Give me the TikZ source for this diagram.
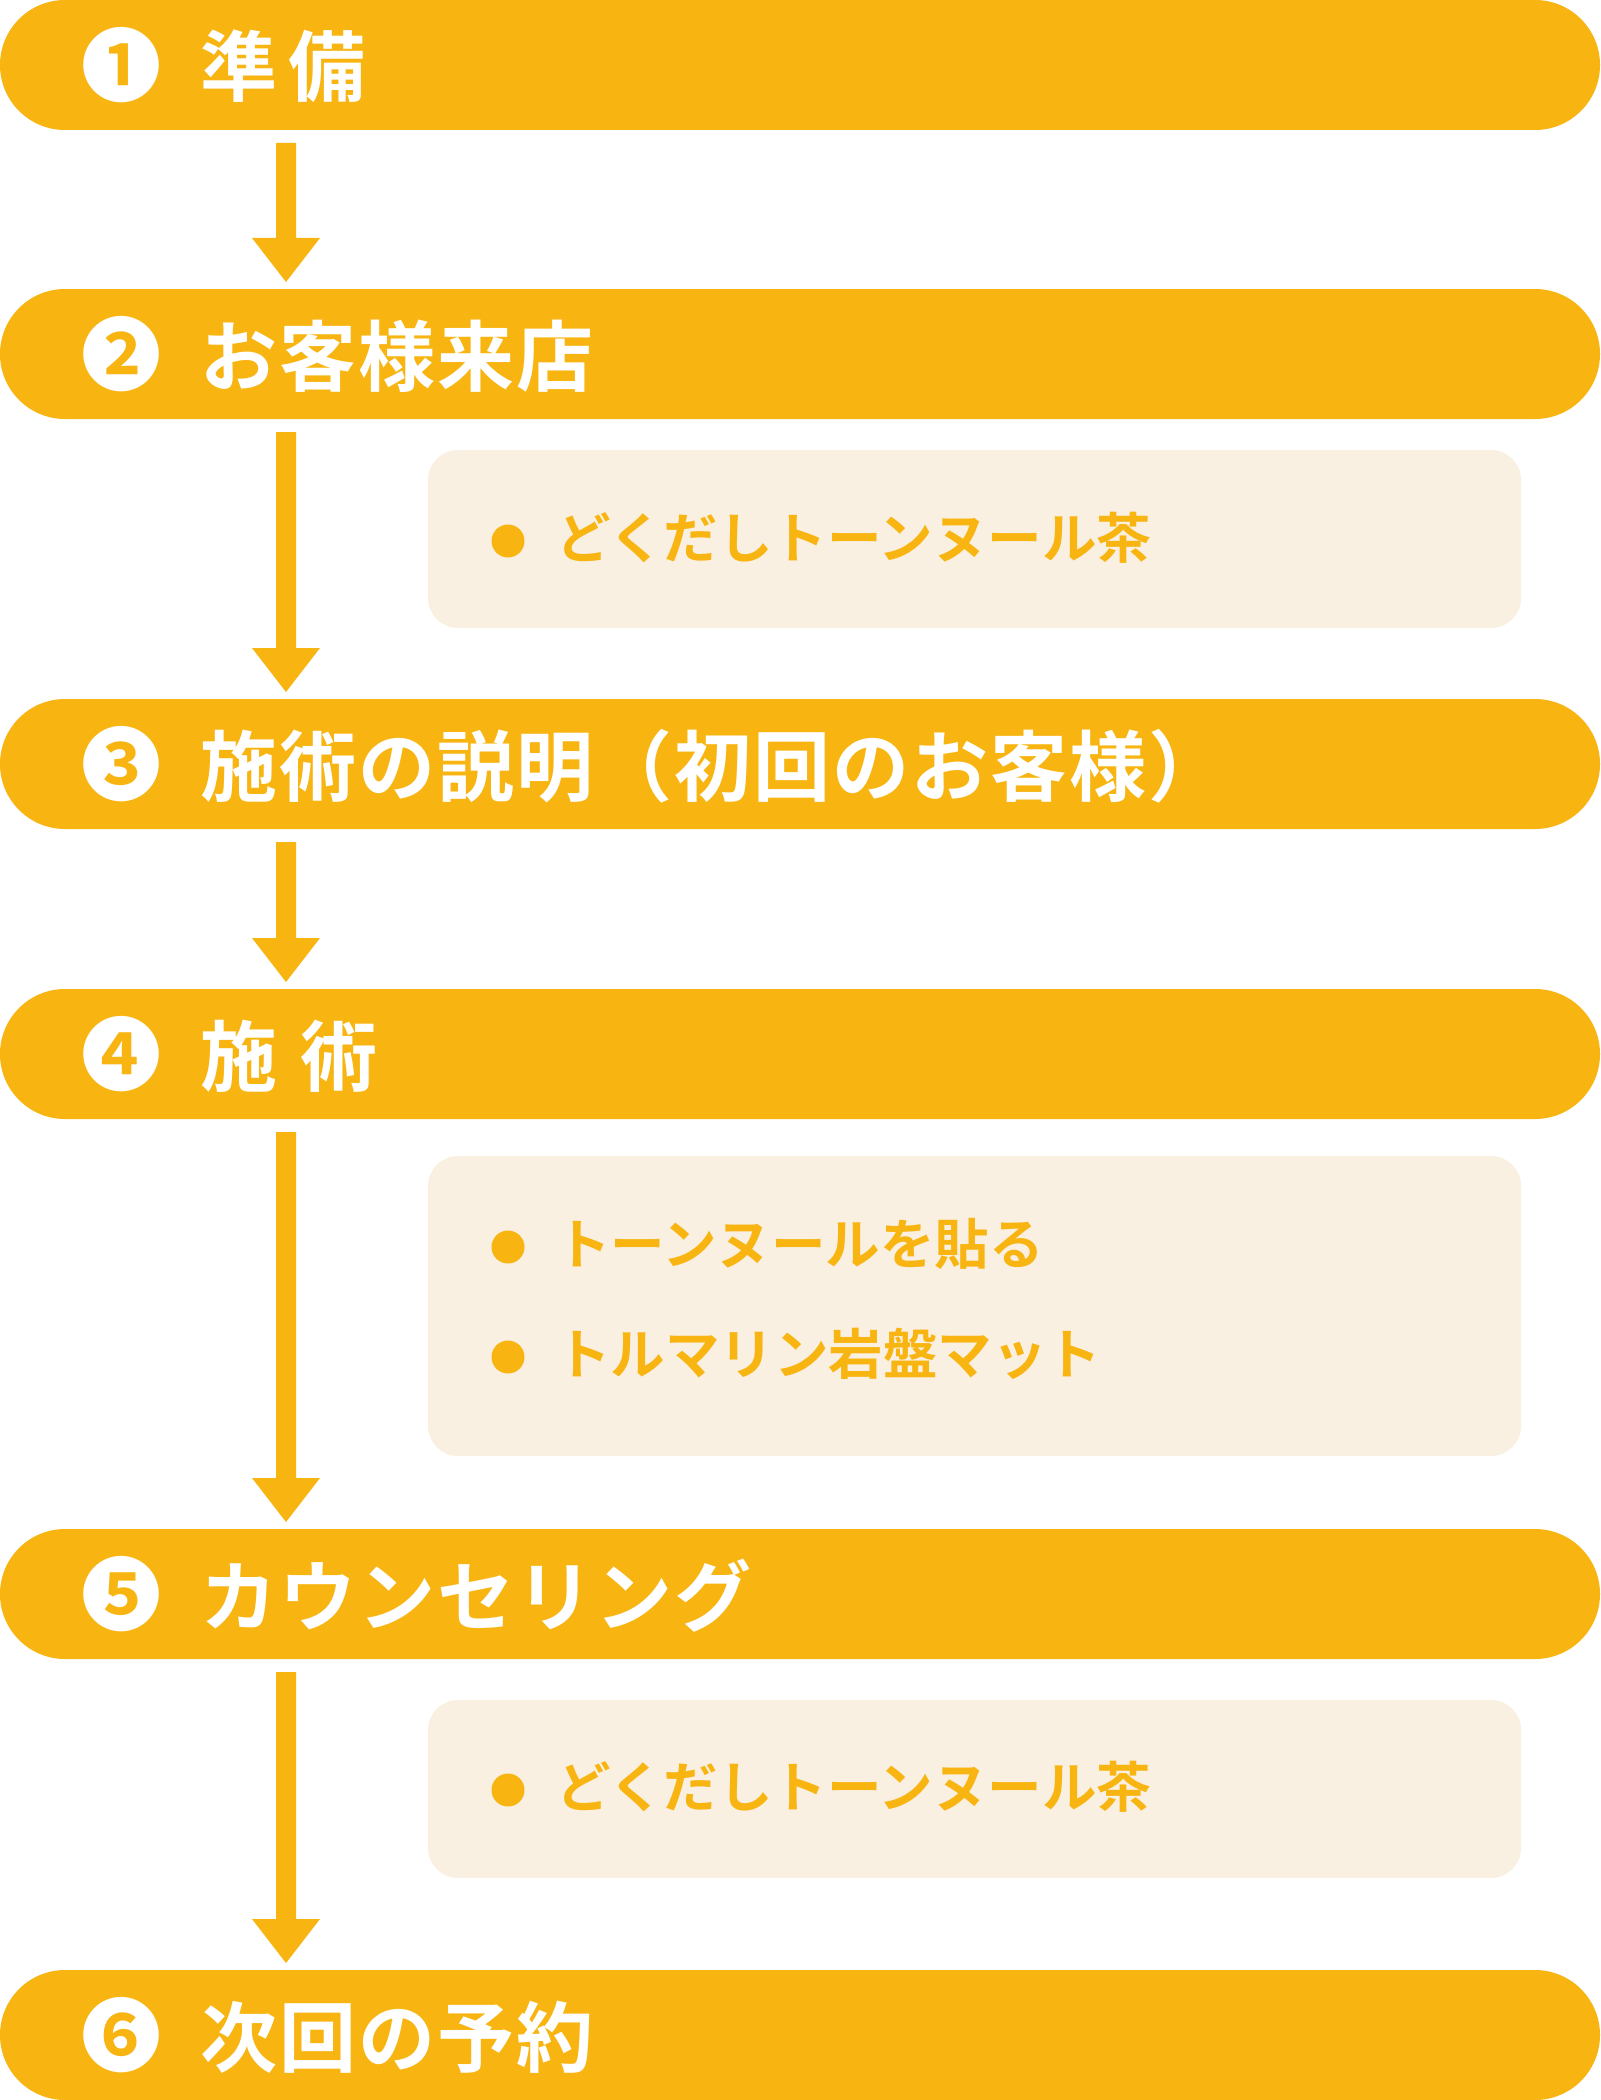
\documentclass[tikz,border=0pt]{standalone}
\usepackage{fontspec}
\setmainfont{Noto Sans CJK JP}[BoldFont={Noto Sans CJK JP Bold}]
\usetikzlibrary{calc}
\definecolor{barc}{HTML}{F8B512}
\definecolor{boxc}{HTML}{FAF0E1}
\tikzset{
 bar/.style={fill=barc, rounded corners=65pt, minimum width=1600pt, minimum height=130pt, inner sep=0pt, outer sep=0pt, anchor=north west},
 subbox/.style={fill=boxc, rounded corners=30pt, minimum width=1093pt, inner sep=0pt, outer sep=0pt, anchor=north west},
 numtxt/.style={text=white, font=\fontsize{80pt}{80pt}\selectfont\bfseries, inner sep=0pt},
 title/.style={text=white, font=\fontsize{77pt}{77pt}\selectfont\bfseries\addfontfeature{LetterSpace=2.6}, inner sep=0pt, anchor=base west},
 item/.style={text=barc, font=\fontsize{54.5pt}{54.5pt}\selectfont\bfseries, inner sep=0pt, anchor=base west},
 dot/.style={circle, fill=barc, minimum size=33pt, inner sep=0pt},
}
\newcommand\flowarrow[2]{%
 \fill[barc] ($(#1.south west)+(276,13)$) -- ($(#1.south west)+(296,13)$)
  -- ($(#2.north west)+(296,-51)$) -- ($(#2.north west)+(320,-51)$)
  -- ($(#2.north west)+(286,-7)$) -- ($(#2.north west)+(252,-51)$)
  -- ($(#2.north west)+(276,-51)$) -- cycle;}
\newcommand\stepbar[4]{% name, top y, number, title
 \node[bar] (#1) at (0,#2) {};
 \node[numtxt] (#1n) at ($(#1.west)+(121,0)$) {#3};
 \node[title] (#1t) at ($(#1.west)+(200,31)$) {#4};}
\begin{document}
\begin{tikzpicture}[x=1pt,y=-1pt]
\fill[white] (0,0) rectangle (1600,2100);
\useasboundingbox (0,0) rectangle (1600,2100);

\stepbar{s1}{0}{❶}{準\hspace{11pt}備}
\stepbar{s2}{289}{❷}{お客様来店}
\stepbar{s3}{699}{❸}{施術の説明（初回のお客様）}
\stepbar{s4}{989}{❹}{施\hspace{23.5pt}術}
\stepbar{s5}{1529}{❺}{カウンセリング}
\stepbar{s6}{1970}{❻}{次回の予約}

\node[subbox, minimum height=178pt] (b1) at (428,450) {};
\node[dot] (d1) at (508,541) {};
\node[item] (i1) at ($(d1)+(48,17)$) {どくだしトーンヌール茶};

\node[subbox, minimum height=300pt] (b2) at (428,1156) {};
\node[dot] (d2) at (508,1247) {};
\node[item] (i2) at ($(d2)+(48,17)$) {トーンヌールを貼る};
\node[dot] (d3) at (508,1357) {};
\node[item] (i3) at ($(d3)+(48,17)$) {トルマリン岩盤マット};

\node[subbox, minimum height=178pt] (b3) at (428,1700) {};
\node[dot] (d4) at (508,1790) {};
\node[item] (i4) at ($(d4)+(48,17)$) {どくだしトーンヌール茶};

\flowarrow{s1}{s2}
\flowarrow{s2}{s3}
\flowarrow{s3}{s4}
\flowarrow{s4}{s5}
\flowarrow{s5}{s6}
\end{tikzpicture}
\end{document}
